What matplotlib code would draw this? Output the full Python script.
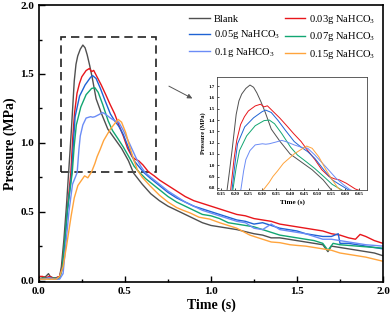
import matplotlib
matplotlib.use("Agg")
import matplotlib.pyplot as plt
from matplotlib.patches import Rectangle
from matplotlib.ticker import MultipleLocator

plt.rcParams['font.family'] = ['Liberation Serif', 'DejaVu Serif']
plt.rcParams['mathtext.fontset'] = 'custom'
plt.rcParams['mathtext.rm'] = 'Liberation Serif'

# pressure traces (time in s, pressure in MPa)
t_blank = [0.00, 0.02, 0.04, 0.055, 0.065, 0.08, 0.10, 0.12, 0.13, 0.145, 0.16, 0.172, 0.181, 0.19, 0.205,
           0.215, 0.225, 0.24, 0.255, 0.268, 0.28, 0.295, 0.31, 0.332, 0.364, 0.40, 0.44, 0.48, 0.52, 0.55,
           0.60, 0.65, 0.70, 0.75, 0.80, 0.85, 0.90, 0.95, 1.00, 1.05, 1.10, 1.15, 1.20, 1.25, 1.30, 1.35,
           1.40, 1.45, 1.50, 1.55, 1.60, 1.65, 1.68, 1.70, 1.75, 1.80, 1.85, 1.90, 1.95, 2.00]
p_blank = [0.01, 0.02, 0.03, 0.05, 0.03, 0.02, 0.02, 0.03, 0.10, 0.30, 0.55, 0.78, 0.95, 1.13, 1.45,
           1.57, 1.63, 1.68, 1.71, 1.69, 1.64, 1.56, 1.47, 1.32, 1.21, 1.10, 1.03, 0.96, 0.87, 0.78,
           0.70, 0.63, 0.58, 0.54, 0.51, 0.48, 0.45, 0.42, 0.40, 0.39, 0.38, 0.37, 0.355, 0.34, 0.33, 0.31,
           0.31, 0.30, 0.29, 0.28, 0.27, 0.26, 0.21, 0.25, 0.24, 0.23, 0.22, 0.21, 0.20, 0.18]

t_003 = [0.00, 0.02, 0.04, 0.06, 0.08, 0.10, 0.12, 0.135, 0.15, 0.165, 0.185, 0.197, 0.207, 0.221, 0.235,
         0.249, 0.274, 0.293, 0.306, 0.318, 0.337, 0.362, 0.388, 0.413, 0.44, 0.464, 0.49, 0.515, 0.541,
         0.56, 0.579, 0.604, 0.636, 0.67, 0.70, 0.75, 0.80, 0.85, 0.90, 0.95, 1.00, 1.05, 1.10, 1.15, 1.20,
         1.25, 1.30, 1.35, 1.40, 1.45, 1.50, 1.55, 1.60, 1.65, 1.70, 1.75, 1.80, 1.84, 1.867, 1.90, 1.95, 2.00]
p_003 = [0.03, 0.03, 0.02, 0.03, 0.02, 0.02, 0.03, 0.10, 0.30, 0.52, 0.78, 1.05, 1.22, 1.36, 1.43,
         1.48, 1.525, 1.54, 1.517, 1.526, 1.48, 1.42, 1.35, 1.28, 1.21, 1.13, 1.05, 0.96, 0.90,
         0.88, 0.87, 0.84, 0.79, 0.76, 0.73, 0.69, 0.65, 0.61, 0.58, 0.56, 0.54, 0.52, 0.50, 0.48, 0.47,
         0.45, 0.44, 0.43, 0.41, 0.40, 0.39, 0.38, 0.37, 0.36, 0.34, 0.33, 0.31, 0.30, 0.335, 0.32, 0.29, 0.27]

t_005 = [0.00, 0.03, 0.06, 0.09, 0.105, 0.12, 0.135, 0.15, 0.165, 0.19, 0.20, 0.21, 0.236, 0.268, 0.30,
         0.312, 0.332, 0.357, 0.383, 0.415, 0.44, 0.464, 0.49, 0.522, 0.553, 0.579, 0.61, 0.65, 0.70, 0.75,
         0.80, 0.85, 0.90, 0.95, 1.00, 1.05, 1.10, 1.15, 1.20, 1.25, 1.30, 1.35, 1.40, 1.45, 1.50, 1.55,
         1.60, 1.65, 1.70, 1.74, 1.75, 1.80, 1.85, 1.90, 1.95, 2.00]
p_005 = [0.01, 0.01, 0.02, 0.01, 0.02, 0.02, 0.08, 0.28, 0.50, 0.78, 1.00, 1.19, 1.34, 1.42, 1.476,
         1.488, 1.467, 1.395, 1.31, 1.21, 1.16, 1.12, 1.06, 0.96, 0.87, 0.83, 0.784, 0.74, 0.69, 0.64,
         0.60, 0.57, 0.54, 0.52, 0.50, 0.48, 0.46, 0.44, 0.43, 0.41, 0.42, 0.40, 0.38, 0.37, 0.36, 0.34,
         0.33, 0.32, 0.32, 0.34, 0.27, 0.27, 0.26, 0.25, 0.24, 0.23]

t_007 = [0.00, 0.03, 0.06, 0.09, 0.105, 0.12, 0.135, 0.15, 0.165, 0.193, 0.205, 0.217, 0.243, 0.274, 0.306,
         0.325, 0.344, 0.37, 0.402, 0.427, 0.459, 0.49, 0.522, 0.553, 0.585, 0.62, 0.65, 0.70, 0.75, 0.80,
         0.85, 0.90, 0.95, 1.00, 1.05, 1.10, 1.15, 1.20, 1.25, 1.30, 1.35, 1.40, 1.45, 1.50, 1.55, 1.60,
         1.65, 1.68, 1.71, 1.75, 1.80, 1.85, 1.90, 1.95, 2.00]
p_007 = [0.01, 0.02, 0.01, 0.02, 0.01, 0.02, 0.09, 0.30, 0.52, 0.78, 0.98, 1.13, 1.26, 1.35, 1.395,
         1.40, 1.367, 1.28, 1.16, 1.09, 1.03, 0.97, 0.90, 0.83, 0.784, 0.74, 0.71, 0.66, 0.61, 0.57,
         0.54, 0.51, 0.48, 0.47, 0.45, 0.42, 0.41, 0.40, 0.39, 0.37, 0.35, 0.33, 0.32, 0.31, 0.30, 0.29,
         0.27, 0.22, 0.27, 0.26, 0.255, 0.25, 0.245, 0.24, 0.235]

t_01 = [0.00, 0.03, 0.06, 0.09, 0.12, 0.14, 0.155, 0.174, 0.195, 0.222, 0.232, 0.24, 0.255, 0.274, 0.30,
        0.312, 0.325, 0.35, 0.37, 0.389, 0.415, 0.44, 0.464, 0.49, 0.528, 0.566, 0.592, 0.617, 0.65, 0.70,
        0.75, 0.80, 0.85, 0.90, 0.95, 1.00, 1.05, 1.10, 1.15, 1.20, 1.25, 1.30, 1.35, 1.40, 1.45, 1.50,
        1.55, 1.60, 1.65, 1.70, 1.75, 1.80, 1.85, 1.90, 1.95, 2.00]
p_01 = [0.01, 0.01, 0.02, 0.01, 0.01, 0.05, 0.25, 0.50, 0.70, 0.784, 0.95, 1.05, 1.13, 1.18, 1.19,
        1.186, 1.19, 1.206, 1.22, 1.206, 1.18, 1.16, 1.15, 1.09, 0.99, 0.886, 0.83, 0.784, 0.75, 0.70,
        0.65, 0.61, 0.57, 0.54, 0.51, 0.49, 0.47, 0.45, 0.43, 0.42, 0.38, 0.37, 0.41, 0.37, 0.36, 0.35,
        0.34, 0.32, 0.30, 0.30, 0.29, 0.28, 0.27, 0.26, 0.255, 0.25]

t_015 = [0.00, 0.03, 0.06, 0.10, 0.12, 0.14, 0.16, 0.187, 0.205, 0.226, 0.265, 0.284, 0.306, 0.325, 0.338,
         0.355, 0.376, 0.415, 0.447, 0.46, 0.48, 0.504, 0.53, 0.553, 0.573, 0.60, 0.644, 0.70, 0.75, 0.80,
         0.838, 0.88, 0.93, 0.993, 1.05, 1.10, 1.15, 1.226, 1.30, 1.35, 1.40, 1.46, 1.50, 1.55, 1.60, 1.65,
         1.70, 1.75, 1.80, 1.85, 1.90, 1.95, 2.00]
p_015 = [0.01, 0.01, 0.01, 0.01, 0.03, 0.10, 0.25, 0.47, 0.60, 0.69, 0.76, 0.746, 0.79, 0.85, 0.90,
         0.95, 1.017, 1.10, 1.15, 1.17, 1.15, 1.075, 0.96, 0.87, 0.80, 0.75, 0.69, 0.62, 0.57, 0.53,
         0.51, 0.49, 0.46, 0.446, 0.42, 0.40, 0.38, 0.33, 0.30, 0.28, 0.275, 0.26, 0.255, 0.25, 0.24, 0.23,
         0.22, 0.20, 0.19, 0.18, 0.17, 0.155, 0.14]

series = [
    ("Blank", t_blank, p_blank, "#505050"),
    ("0.03g NaHCO$_3$", t_003, p_003, "#e8161b"),
    ("0.05g NaHCO$_3$", t_005, p_005, "#1f63d4"),
    ("0.07g NaHCO$_3$", t_007, p_007, "#12a672"),
    ("0.1g NaHCO$_3$", t_01, p_01, "#6b8cf6"),
    ("0.15g NaHCO$_3$", t_015, p_015, "#ffa43c"),
]

fig = plt.figure(figsize=(3.9, 3.2), dpi=100)
ax = fig.add_axes([0.1, 0.119, 0.882, 0.865])

lines = []
for name, t, p, c in series:
    ln, = ax.plot(t, p, color=c, lw=1.0, label=name)
    lines.append(ln)

ax.set_xlim(0, 2.0)
ax.set_ylim(-0.01, 2.0)
ax.xaxis.set_major_locator(MultipleLocator(0.5))
ax.xaxis.set_minor_locator(MultipleLocator(0.25))
ax.yaxis.set_major_locator(MultipleLocator(0.5))
ax.yaxis.set_minor_locator(MultipleLocator(0.25))
ax.tick_params(which='both', direction='in', labelsize=8)
ax.tick_params(which='major', length=4, width=1)
ax.tick_params(which='minor', length=2.5, width=1)
for lab in ax.get_xticklabels() + ax.get_yticklabels():
    lab.set_fontweight('bold')
for s in ax.spines.values():
    s.set_linewidth(1.2)
ax.set_xlabel("Time (s)", fontsize=10, fontweight='bold', va='center')
ax.set_ylabel("Pressure (MPa)", fontsize=10, fontweight='bold', va='center')
ax.xaxis.set_label_coords(0.5, -0.085)
ax.yaxis.set_label_coords(-0.085, 0.5)

# legend filled row by row like the original
order = [0, 2, 4, 1, 3, 5]
ax.legend([lines[i] for i in order], [series[i][0] for i in order], ncol=2, loc='upper right',
          frameon=False, fontsize=7.6, handlelength=1.9, columnspacing=0.45, handletextpad=0.4,
          labelspacing=0.42, borderaxespad=0.35)

# dashed zoom box and arrow
ax.add_patch(Rectangle((0.13, 0.79), 0.55, 0.98, fill=False, ls=(0, (5, 3)), lw=1.2, ec='#222222'))
ax.annotate("", xy=(0.906, 1.313), xytext=(0.741, 1.421),
            arrowprops=dict(arrowstyle='-|>', color='#555555', lw=0.7, mutation_scale=7))

# inset
ins = fig.add_axes([0.556, 0.406, 0.386, 0.353])
for name, t, p, c in series:
    ins.plot(t, p, color=c, lw=0.7)
ins.set_xlim(0.135, 0.68)
ins.set_ylim(0.78, 1.78)
ins.xaxis.set_major_locator(MultipleLocator(0.05))
ins.yaxis.set_major_locator(MultipleLocator(0.1))
ins.tick_params(direction='in', labelsize=3.6, length=1.5, width=0.5, pad=1.5)
for lab in ins.get_xticklabels() + ins.get_yticklabels():
    lab.set_fontweight('bold')
for s in ins.spines.values():
    s.set_linewidth(0.6)
    s.set_color('#444444')
ins.set_xlabel("Time (s)", fontsize=5, fontweight='bold', labelpad=2)
ins.set_ylabel("Pressure (MPa)", fontsize=4.5, fontweight='bold', labelpad=2)

fig.savefig("out.png", dpi=100)
